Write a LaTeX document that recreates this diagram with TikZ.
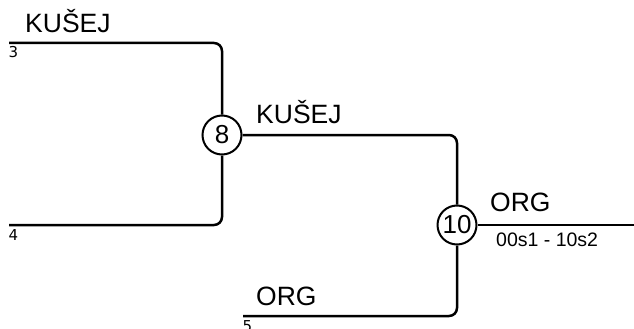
\documentclass[tikz,border=0pt]{standalone}
\usepackage{fontspec}
\setmainfont{Liberation Sans}
\newfontfamily\smallnum{DejaVu Sans}
\begin{document}
\begin{tikzpicture}[x=1pt,y=-1pt,
  wire/.style={line width=2.5pt, rounded corners=8pt},
  match/.style={circle, draw, line width=2pt, minimum size=39pt, inner sep=0pt, font=\fontsize{26}{26}\selectfont},
  big/.style={anchor=base west, inner sep=0pt, font=\fontsize{26.5}{26.5}\selectfont},
  score/.style={anchor=base west, inner sep=0pt, font=\fontsize{19.5}{19.5}\selectfont},
  seed/.style={anchor=base west, inner sep=0pt, font=\smallnum\fontsize{15}{15}\selectfont}]
\useasboundingbox (0,0) rectangle (634,329);
\node[match] (c8) at (222,135) {8};
\node[match] (c10) at (457,225) {10};
\coordinate (l3) at (9,43);
\coordinate (l4) at (9,225);
\coordinate (l5) at (243,316);
\coordinate (out) at (634,225);
\draw[wire] (l3) -| (c8.north);
\draw[wire] (l4) -| (c8.south);
\draw[wire] (c8.east) -| (c10.north);
\draw[wire] (l5) -| (c10.south);
\draw[wire] (c10.east) -- (out);
\node[big] (t3) at (25,33) {KUŠEJ};
\node[seed] (n3) at (8.5,57.5) {3};
\node[seed] (n4) at (8.5,240) {4};
\node[seed] (n5) at (242.5,331) {5};
\node[big] (t8) at (256,123) {KUŠEJ};
\node[big] (t5) at (256,305) {ORG};
\node[big] (t10) at (490,211) {ORG};
\node[score] (s10) at (496,246) {00s1 - 10s2};
\end{tikzpicture}
\end{document}
